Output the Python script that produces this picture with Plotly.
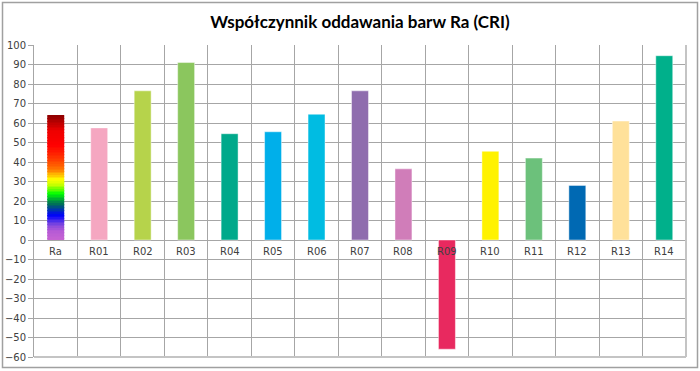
import plotly.graph_objects as go
from plotly.colors import sample_colorscale

title_text = "Współczynnik oddawania barw Ra (CRI)"
categories = ["Ra", "R01", "R02", "R03", "R04", "R05", "R06", "R07",
              "R08", "R09", "R10", "R11", "R12", "R13", "R14"]
values = [64, 57.5, 76.5, 91, 54.5, 55.5, 64.5, 76.5, 36.5, -56, 45.5, 42, 28, 61, 94.5]
bar_colors = ["#ff0000", "#f5a7c1", "#b6d34b", "#8bc65e", "#00a98b", "#00afea",
              "#00bce2", "#8f6dae", "#d07db9", "#e8295f", "#fff200", "#6cc17b",
              "#0069b3", "#ffe19a", "#00b08b"]
y_ticks = list(range(-60, 101, 10))

# vertical rainbow used to fill the "Ra" bar (bottom -> top)
ra_gradient = [[0.0, "#c864d2"], [0.08, "#b45ad6"], [0.14, "#6a3ee2"], [0.2, "#0000ff"],
               [0.29, "#006a5c"], [0.375, "#00ff00"], [0.44, "#c0ff00"], [0.49, "#ffff00"],
               [0.56, "#ff8000"], [0.64, "#ff4000"], [0.76, "#ff0000"], [0.88, "#ee0000"],
               [1.0, "#8c0000"]]

fig = go.Figure()

# Ra bar split into thin stacked slices to emulate the gradient
n_slices = 80
ra_val = values[0]
seg = ra_val / n_slices
fig.add_trace(go.Bar(
    x=[categories[0]] * n_slices,
    y=[seg] * n_slices,
    base=[i * seg for i in range(n_slices)],
    marker=dict(color=sample_colorscale(ra_gradient, [(i + 0.5) / n_slices for i in range(n_slices)]),
                line=dict(width=0)),
    width=0.39, showlegend=False, hoverinfo="skip",
))

fig.add_trace(go.Bar(
    x=categories[1:], y=values[1:],
    marker=dict(color=bar_colors[1:], line=dict(width=1, color="rgba(255,255,255,0.45)")),
    width=0.39, showlegend=False,
))

for c, v in zip(categories, values):
    fig.add_annotation(x=c, y=0, text=c, showarrow=False, yanchor="top", yshift=-4,
                       font=dict(family="DejaVu Sans", size=10, color="#404040"))

l, r, t, b = 34, 14, 45, 14
W, H = 700, 371
pw, ph = W - l - r, H - t - b

fig.update_layout(
    width=W, height=H,
    margin=dict(l=l, r=r, t=t, b=b, autoexpand=False),
    paper_bgcolor="white", plot_bgcolor="white",
    barmode="overlay",
    title=dict(text="<b>" + title_text + "</b>", x=0.5, xanchor="center",
               y=1 - 22 / H, yanchor="middle", xref="paper",
               font=dict(family="Lato", size=17, color="#000000")),
    xaxis=dict(type="category", categoryorder="array", categoryarray=categories,
               range=[-0.5, len(categories) - 0.5], tickson="boundaries",
               showgrid=True, gridcolor="#a6a6a6", gridwidth=1,
               showticklabels=False, ticks="", showline=False, zeroline=False,
               automargin=False),
    yaxis=dict(range=[-60, 100], tickvals=y_ticks, showgrid=True, gridcolor="#a6a6a6",
               gridwidth=1, zeroline=True, zerolinecolor="#a6a6a6", zerolinewidth=1,
               showline=True, linecolor="#a6a6a6", linewidth=1,
               ticks="outside", ticklen=5, tickcolor="#a6a6a6", automargin=False,
               tickfont=dict(family="DejaVu Sans", size=10, color="#404040")),
    shapes=[
        # outer chart frame
        dict(type="rect", xref="paper", yref="paper",
             x0=(2.5 - l) / pw, x1=(697.5 - l) / pw,
             y0=1 - (367.5 - t) / ph, y1=1 - (2.5 - t) / ph,
             line=dict(color="#a0a0a0", width=1.5), layer="below"),
        # plot-area right and bottom edges
        dict(type="line", xref="paper", yref="paper", x0=1, x1=1, y0=0, y1=1,
             line=dict(color="#c4c4c4", width=2)),
        dict(type="line", xref="paper", yref="paper", x0=0, x1=1, y0=0, y1=0,
             line=dict(color="#c4c4c4", width=2)),
    ],
)

fig.write_html("out.html", config={"displayModeBar": False},
               post_script="document.body.style.margin='0';")
